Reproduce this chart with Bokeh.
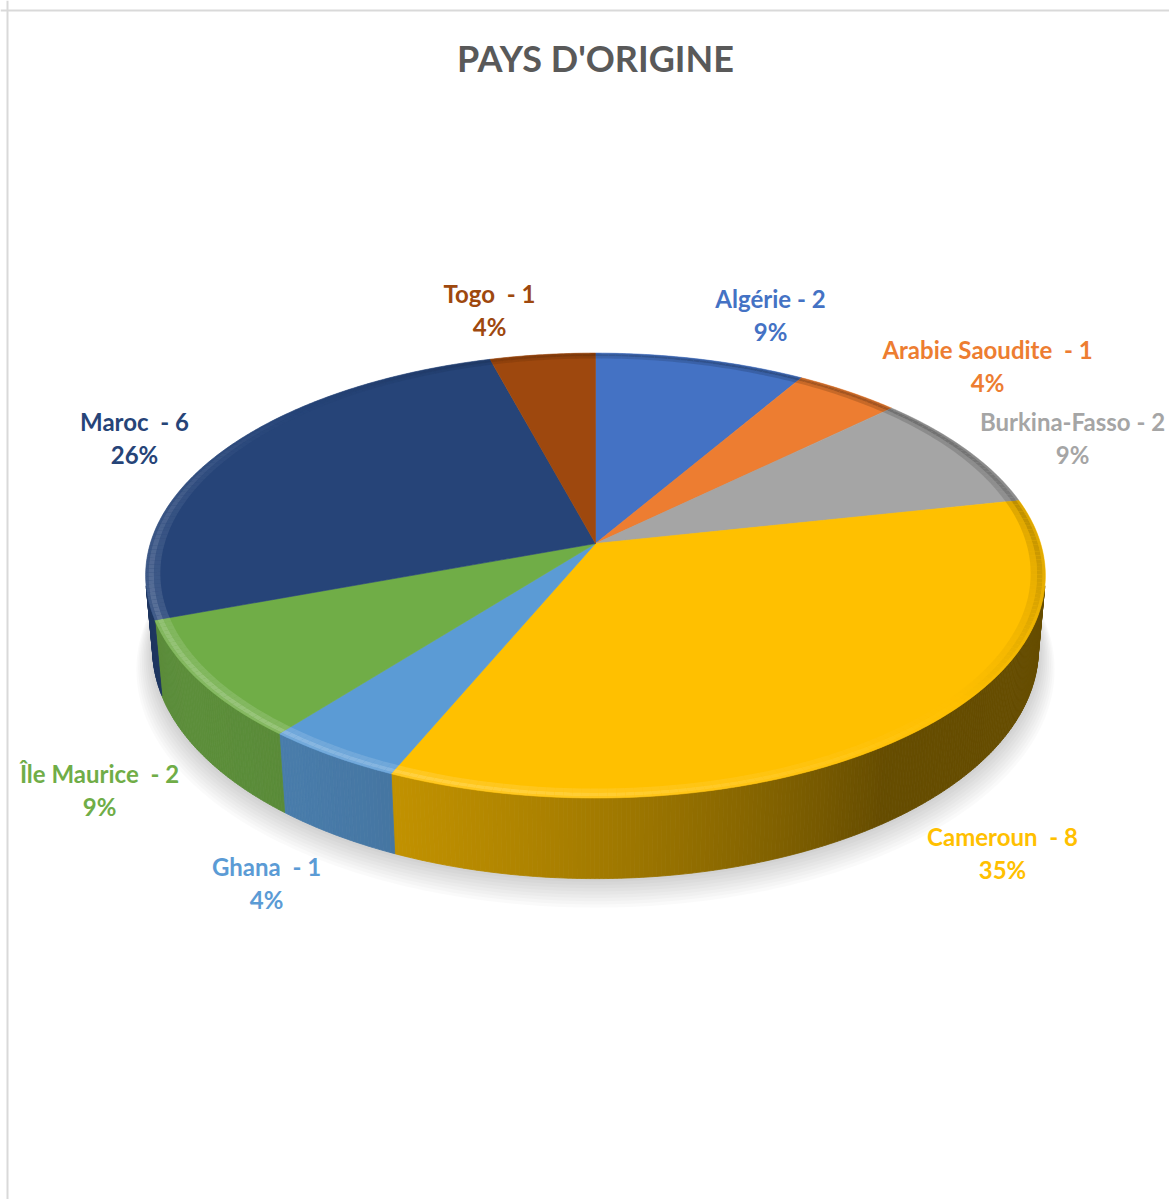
import numpy as np
from bokeh.plotting import figure
from bokeh.models import Range1d, Span, ColumnDataSource
from bokeh.core.properties import value
from bokeh.embed import file_html
from bokeh.resources import INLINE

# ---------------- data ----------------
title = "PAYS D'ORIGINE"
countries = ["Algérie", "Arabie Saoudite ", "Burkina-Fasso", "Cameroun ", "Ghana ",
             "Île Maurice ", "Maroc ", "Togo "]
counts = [2, 1, 2, 8, 1, 2, 6, 1]
colors = ["#4472C4", "#ED7D31", "#A5A5A5", "#FFC000", "#5B9BD5",
          "#70AD47", "#264478", "#9E480E"]

# ---------------- layout (label anchors in page pixels) ----------------
label_x = [770, 987, 1072, 1002, 266, 99, 134, 489]
label_y = [298, 349, 421, 836, 866, 773, 421, 293]
LINE_GAP = 33

W, H = 1169, 1199
# perspective camera for the 3D pie
CX, CY = 595.0, 543.0
FOC, DIST, ELEV = 2693.0, 6.05, np.radians(29.3)
THICK = 0.191
SE, CE = np.sin(ELEV), np.cos(ELEV)


def proj(x, y, z):
    depth = y * CE - z * SE + DIST
    return CX + FOC * x / depth, CY - FOC * (y * SE + z * CE) / depth


def h2r(h):
    return np.array([int(h[i:i + 2], 16) for i in (1, 3, 5)], float)


def r2h(a):
    a = np.clip(np.round(a), 0, 255).astype(int)
    return "#%02x%02x%02x" % tuple(a)


def shade(h, k):
    return r2h(h2r(h) * k)


def tint(h, t):
    c = h2r(h)
    return r2h(c + (255 - c) * t)


def bevel(h, L):
    if L >= 0:
        return tint(h, 0.30 * L)
    return shade(h, 1 + 0.35 * L)


total = float(sum(counts))
fr = np.array(counts) / total
ends = np.cumsum(fr) * 360.0
starts = ends - fr * 360.0

p = figure(width=W, height=H, x_range=Range1d(0, W), y_range=Range1d(H, 0),
           output_backend="svg", toolbar_location=None, min_border=0,
           x_axis_location=None, y_axis_location=None)
p.grid.visible = False
p.outline_line_color = None
p.background_fill_color = "white"
p.border_fill_color = "white"

p.add_layout(Span(location=7, dimension="height", line_color="#D9D9D9", line_width=2))
p.add_layout(Span(location=10, dimension="width", line_color="#D9D9D9", line_width=2))

# ---------------- soft shadow ----------------
th = np.radians(np.linspace(0, 360, 361))
for i in range(1, 10):
    r = 1.0 + 0.004 * i
    sx, sy = proj(r * np.sin(th), r * np.cos(th), -THICK)
    p.patch(sx, sy + 2.0 * i, fill_color="#000000", fill_alpha=0.018, line_color=None)

# ---------------- side walls ----------------
vis_lo, vis_hi = 100.9, 259.1
xs, ys, fc = [], [], []
for a0, a1, col in zip(starts, ends, colors):
    lo, hi = max(a0, vis_lo), min(a1, vis_hi)
    if hi <= lo:
        continue
    n = max(1, int(np.ceil((hi - lo) / 0.5)))
    grid = np.linspace(lo, hi, n + 1)
    for ta, tb in zip(grid[:-1], grid[1:]):
        ra, rb = np.radians(ta), np.radians(tb)
        tx, ty = proj(np.array([np.sin(ra), np.sin(rb)]), np.array([np.cos(ra), np.cos(rb)]), 0.0)
        bx, by = proj(np.array([np.sin(rb), np.sin(ra)]), np.array([np.cos(rb), np.cos(ra)]), -THICK)
        xs.append(list(tx) + list(bx))
        ys.append(list(ty) + list(by))
        tm = np.radians(0.5 * (ta + tb) - 235.0)
        k = 0.40 + 0.42 * max(0.0, np.cos(tm))
        fc.append(shade(col, k))
p.patches(xs="xs", ys="ys", fill_color="fc", line_color="fc", line_width=0.8,
          source=ColumnDataSource(dict(xs=xs, ys=ys, fc=fc)))

# ---------------- top faces ----------------
xs, ys = [], []
for a0, a1 in zip(starts, ends):
    t = np.radians(np.linspace(a0, a1, max(4, int((a1 - a0) * 2))))
    rx, ry = proj(np.sin(t), np.cos(t), 0.0)
    xs.append([CX] + list(rx))
    ys.append([CY] + list(ry))
p.patches(xs="xs", ys="ys", fill_color="c", line_color="c", line_width=0.6,
          source=ColumnDataSource(dict(xs=xs, ys=ys, c=colors)))

# ---------------- bevel band along the rim ----------------
xs, ys, fc, fa = [], [], [], []
for a0, a1, col in zip(starts, ends, colors):
    n = max(1, int(np.ceil((a1 - a0) / 1.0)))
    grid = np.linspace(a0, a1, n + 1)
    for ta, tb in zip(grid[:-1], grid[1:]):
        ra, rb = np.radians(ta), np.radians(tb)
        L = np.cos(np.radians(0.5 * (ta + tb) - 222.0))
        for (r_in, r_out, alpha) in ((0.968, 0.982, 0.45), (0.982, 0.994, 0.9), (0.994, 1.0, 0.5)):
            ox, oy = proj(r_out * np.array([np.sin(ra), np.sin(rb)]), r_out * np.array([np.cos(ra), np.cos(rb)]), 0.0)
            ix, iy = proj(r_in * np.array([np.sin(rb), np.sin(ra)]), r_in * np.array([np.cos(rb), np.cos(ra)]), 0.0)
            xs.append(list(ox) + list(ix))
            ys.append(list(oy) + list(iy))
            fc.append(bevel(col, L))
            fa.append(alpha)
p.patches(xs="xs", ys="ys", fill_color="fc", fill_alpha="fa", line_color=None,
          source=ColumnDataSource(dict(xs=xs, ys=ys, fc=fc, fa=fa)))

# ---------------- labels ----------------
line1 = [f"{c} - {n}".replace("  ", "\u00a0 ") for c, n in zip(countries, counts)]
line2 = [f"{round(100 * n / total)}%" for n in counts]
src = ColumnDataSource(dict(x=label_x, y1=label_y, y2=[y + LINE_GAP for y in label_y],
                            t1=line1, t2=line2, c=colors))
for ycol, tcol in (("y1", "t1"), ("y2", "t2")):
    p.text(x="x", y=ycol, text=tcol, source=src, text_color="c",
           text_font=value("Lato"), text_font_style="bold", text_font_size="24px",
           text_align="center", text_baseline="middle")

p.text(x=[595], y=[57], text=[title], text_color="#595959", text_font=value("Lato"),
       text_font_style="bold", text_font_size="36px", text_align="center",
       text_baseline="middle")

open("out.html", "w").write(file_html(p, INLINE))
